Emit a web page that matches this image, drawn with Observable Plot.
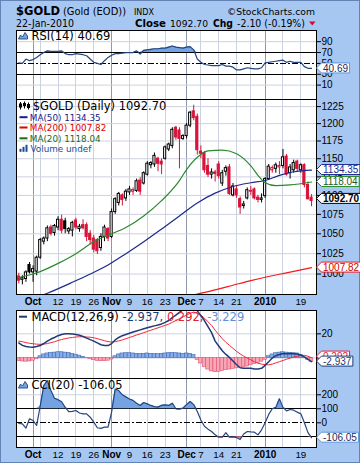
<!DOCTYPE html>
<html>
<head>
<meta charset="utf-8">
<script src="https://cdn.jsdelivr.net/npm/d3@7"></script>
<script src="https://cdn.jsdelivr.net/npm/@observablehq/plot@0.6"></script>
<style>
  html, body { margin: 0; padding: 0; background: #ffffff; }
  #chart { position: relative; width: 360px; height: 463px; background: #a7c7f3; overflow: hidden; box-shadow: inset 0 0 0 1px #6482b4; }
  #chart > svg { position: absolute; left: 0; }
</style>
</head>
<body>
<div id="chart"></div>
<script>
// ---------------- DATA ----------------
const symbol = "$GOLD";
const days = [
  "2009-09-25","2009-09-28","2009-09-29","2009-09-30",
  "2009-10-01","2009-10-02","2009-10-05","2009-10-06","2009-10-07","2009-10-08","2009-10-09",
  "2009-10-12","2009-10-13","2009-10-14","2009-10-15","2009-10-16","2009-10-19","2009-10-20",
  "2009-10-21","2009-10-22","2009-10-23","2009-10-26","2009-10-27","2009-10-28","2009-10-29","2009-10-30",
  "2009-11-02","2009-11-03","2009-11-04","2009-11-05","2009-11-06","2009-11-09","2009-11-10",
  "2009-11-11","2009-11-12","2009-11-13","2009-11-16","2009-11-17","2009-11-18","2009-11-19",
  "2009-11-20","2009-11-23","2009-11-24","2009-11-25","2009-11-26","2009-11-27","2009-11-30",
  "2009-12-01","2009-12-02","2009-12-03","2009-12-04","2009-12-07","2009-12-08","2009-12-09",
  "2009-12-10","2009-12-11","2009-12-14","2009-12-15","2009-12-16","2009-12-17","2009-12-18",
  "2009-12-21","2009-12-22","2009-12-23","2009-12-24","2009-12-28","2009-12-29","2009-12-30","2009-12-31",
  "2010-01-04","2010-01-05","2010-01-06","2010-01-07","2010-01-08","2010-01-11","2010-01-12",
  "2010-01-13","2010-01-14","2010-01-15","2010-01-19","2010-01-20","2010-01-21","2010-01-22"
];
const prevClose = 996;
const open = [997,993,994,1011,1002,1003,1020,1040,1044,1058, 1051,1058,1068,1066,1053,1054,1067,1056,1061,1061,
  1050,1044,1042,1032,1046,1056,1046,1078,1090,1100, 1096,1104,1105,1106,1120,1116,1128,1141,1142,1150,
  1146,1150,1163,1168,1194,1190,1178,1182,1197,1218, 1210,1160,1158,1140,1128,1131,1142,1116,1132,1138,
  1100,1108,1095,1086,1096,1106,1108,1097,1094,1099, 1122,1134,1136,1138,1140,1153,1130,1134,1146,1134,
  1141,1114,1097];
const high = [1001,998,1004,1014,1010,1022,1044,1046,1060,1061, 1062,1072,1074,1070,1058,1066,1070,1062,1068,1064,
  1054,1048,1044,1050,1061,1058,1082,1097,1104,1102, 1108,1112,1110,1122,1124,1132,1146,1146,1158,1152,
  1150,1168,1172,1194,1196,1194,1184,1200,1218,1227, 1214,1168,1160,1150,1136,1134,1146,1134,1140,1142,
  1116,1112,1098,1092,1110,1112,1110,1100,1102,1124, 1142,1140,1144,1146,1163,1156,1142,1148,1148,1143,
  1143,1118,1101];
const low = [988,987,990,1000,990,998,1018,1036,1040,1047, 1047,1054,1050,1050,1049,1046,1055,1052,1055,1040,
  1036,1026,1024,1028,1040,1040,1044,1075,1086,1086, 1092,1100,1100,1104,1100,1114,1126,1136,1138,1132,
  1128,1148,1160,1164,1176,1136,1176,1178,1194,1204, 1155,1150,1130,1124,1122,1118,1122,1112,1126,1100,
  1098,1096,1075,1082,1094,1100,1094,1090,1090,1096, 1120,1130,1130,1128,1136,1126,1122,1130,1132,1130,
  1110,1094,1085];
const close = [992,995,1002,1002,1006,1020,1042,1044,1057,1050, 1060,1068,1054,1056,1056,1064,1058,1059,1057,1046,
  1042,1030,1028,1046,1058,1044,1078,1095,1102,1094, 1105,1108,1107,1119,1105,1130,1143,1144,1154,1143,
  1142,1166,1170,1191,1180,1178,1182,1197,1216,1208, 1162,1157,1134,1128,1131,1129,1126,1130,1137,1102,
  1112,1100,1084,1088,1107,1105,1096,1094,1096,1122, 1139,1137,1141,1140,1152,1128,1138,1144,1136,1141,
  1114,1094.8,1092.7];

const ma50Days = ["2009-09-25","2009-10-07","2009-10-16","2009-10-23","2009-10-30","2009-11-06","2009-11-13","2009-11-20",
  "2009-11-27","2009-12-04","2009-12-11","2009-12-18","2009-12-28","2010-01-04","2010-01-08","2010-01-14","2010-01-22"];
const ma50Vals = [965,977,990,1000,1011,1025,1040,1056,1073,1090,1103,1112,1117,1120,1127,1132,1134.35];
const ma20Days = ["2009-09-25","2009-10-01","2009-10-05","2009-10-12","2009-10-19","2009-10-26","2009-11-02","2009-11-06",
  "2009-11-13","2009-11-20","2009-11-27","2009-12-01","2009-12-04","2009-12-09","2009-12-15","2009-12-21","2009-12-28",
  "2009-12-30","2010-01-04","2010-01-07","2010-01-13","2010-01-22"];
const ma20Vals = [996,1000,1003,1013,1025,1040,1050,1058,1073,1093,1120,1135,1152,1161,1162,1157,1140,1127,1117,1113,1114,1118.04];
const ma200Days = ["2009-11-30","2009-12-04","2009-12-11","2009-12-18","2009-12-28","2010-01-05","2010-01-12","2010-01-22"];
const ma200Vals = [972,976,981,986.5,992,997,1001.5,1007.82];

const rsi = [51,50,58,55,57,61,66,70,73,72, 72,72,73,68,66,66,68,67,66,64, 58,52,50,48,55,61,65,68,68,69,
  70,70,70,73,67,74,75,76,77,77, 78,78,80,82,80,79,78,80,81,75, 58,52,48,47,46,46,46,48,45,45,
  43,38,38,40,42,41,40,40,42,51, 52,53,54,55,56,52,54,52,52,52, 44,41,40.69];
const macd = [12.5,10.5,9.5,9.2,9,9.5,10.4,12,14,15.7, 17,18.5,19.5,20,20,19.8,19.5,18.8,17.8,16.5,
  15.2,14,12.5,11,10.3,10.3,12,15,17,18.5, 19.5,20.5,21.5,22.4,23.3,24.2,25,25.8,26.6,27.3,
  28.2,29.5,31,33.5,35.5,37.8,40,42,44,45, 39,35,31,26,21,14,10,6,3,0.5,
  -2.5,-5.5,-8,-8.5,-8.5,-8.5,-9,-9,-8.5,-6, -3,0,2,3,3.8,3.6,3.7,3.6,3.3,2.5, 1,-1,-2.937];
const signal = [14,13.5,12.8,12.2,11.8,11.5,11.3,11.5,12,12.7, 13.5,14.5,15.3,16,16.6,17,17.4,17.6,17.6,17.4,
  17.2,16.8,16,15.2,14.3,13.6,13.2,13.5,14.2,15, 16,17,18,19,20,21,22,23,24,25,
  26,27,28,29.5,31,32.5,34,35.5,37,38, 37,35.5,33,30,27,23,19.5,16,13,10.5,
  8,5.5,3.5,1.5,0,-1.5,-3,-4.3,-5,-5.5, -5.6,-5,-4,-3,-2,-1,0,0.8,1.5,2, 2.3,1.5,0.292];
const hist = [-2.5,-2.8,-3,-2.8,-2.2,-1,1.5,3,3.8,4.2, 4.5,4.8,4.8,4.5,4.2,3.5,2.8,2,1,0.2,
  -1,-1.8,-2.3,-2.6,-2.6,-2.2,-1.2,1.5,3,3.8, 4,4,3.8,3.5,3.3,3.5,3.8,3.5,3.3,3.2,
  3.5,3.8,4,4.2,4,3.8,3.5,3.8,3.5,2.5, -1.5,-4.5,-7.5,-9.5,-11,-11.6,-11.4,-10.8,-10,-9.5,
  -9,-8.5,-8,-7.5,-7,-6,-5,-4,-3,-1.5, 1.5,3,4,4.5,4.8,4.5,4.2,4,3.8,2.5, 0.5,-1.5,-3.229];
const cci = [-5,-7,-38,29,16,-19,120,266,300,230, 175,165,150,110,80,82,88,70,64,64,
  40,5,-35,-40,-31,-31,76,240,230,200, 185,170,160,140,124,145,135,124,115,112,
  125,128,124,140,100,98,105,130,152,130, 80,20,-25,-45,-62,-85,-103,-103,-70,-103,
  -100,-105,-119,-80,-62,-65,-67,-86,-50,0, 60,100,110,171,110,85,95,90,76,64, 0,-70,-106.05];

const rsiTicks = [10,30,50,70,90];
const priceTicks = [1000,1025,1050,1075,1100,1125,1150,1175,1200,1225];
const macdTicks = [0,20];
const cciTicks = [-100,0,100,200];
const monthLabelDays = ["2009-10-01","2009-11-02","2009-12-01","2010-01-04"];
const monthLabels = ["Oct","Nov","Dec","2010"];
const dayLabelDays = ["2009-10-12","2009-10-19","2009-10-26","2009-11-09","2009-11-16","2009-11-23","2009-12-07","2009-12-14","2009-12-21","2010-01-19"];
const dayLabels = ["12","19","26","9","16","23","7","14","21","19"];
const gridDays = ["2009-10-05","2009-10-12","2009-10-19","2009-10-26","2009-11-09","2009-11-16","2009-11-23","2009-12-07","2009-12-14","2009-12-21","2009-12-28","2010-01-11","2010-01-19"];

// ---------------- LAYOUT / STYLE ----------------
const RED = "#d8133a", NAVY = "#1b2a8f", GREEN = "#2a8a2a", MA200C = "#f21a1a";
const LINE = "#24457e", FILLB = "#74a2e2", FILLR = "#f27a8e";
const GRID = "#cdd2e0", GRIDM = "#8f98ab";
const W = 360, ML = 16, MR = 44;
const X0 = 18.3, DX = 3.57;
const xDomain = [(ML - X0) / DX, (W - MR - X0) / DX];
const DJ = "'DejaVu Sans', Verdana, sans-serif";
const LS = "'Liberation Sans', Arial, sans-serif";
const chart = document.getElementById("chart");
const di = d => days.indexOf(d);
const last = a => a[a.length - 1];
const baseStyle = {fontFamily: LS, fontSize: "10px", color: "#000", background: "none", overflow: "visible"};

function place(svg, top) {
  svg.style.position = "absolute"; svg.style.left = "0px"; svg.style.top = top + "px";
  svg.style.background = "none"; svg.style.maxWidth = "none";
  chart.appendChild(svg); return svg;
}
function vGrid() {
  return [
    Plot.ruleX(gridDays.map(di), {stroke: GRID, shapeRendering: "crispEdges"}),
    Plot.ruleX(monthLabelDays.map(di), {stroke: GRIDM, shapeRendering: "crispEdges"})
  ];
}
function legend(str, dx, dy, fill, size) {
  return Plot.text([str], {text: d => d, frameAnchor: "top-left", dx, dy, textAnchor: "start", lineAnchor: "middle",
    fill, fontSize: size, fontFamily: DJ});
}
function dateLabels(dy) {
  return [
    Plot.text(monthLabelDays.map((d, k) => ({i: di(d), t: monthLabels[k]})), {x: "i", text: "t", frameAnchor: "bottom", dy, lineAnchor: "middle", fontWeight: "bold", fontSize: 10, fill: "#000", fontFamily: LS}),
    Plot.text(dayLabelDays.map((d, k) => ({i: di(d), t: dayLabels[k]})), {x: "i", text: "t", frameAnchor: "bottom", dy, lineAnchor: "middle", fontSize: 9.8, fill: "#000", fontFamily: LS})
  ];
}
function yAxis(extra) {
  return Object.assign({axis: "right", tickSize: 4, tickPadding: 1, tickFormat: d => String(d), label: null}, extra);
}
function scaleFn(plot, name) {
  const s = plot.scale(name);
  if (s && typeof s.apply === "function") return v => s.apply(v);
  const f = (s.type === "log" ? d3.scaleLog() : d3.scaleLinear()).domain(s.domain).range(s.range);
  return f;
}
function tag(svg, y, label, border, color, bold) {
  const g = d3.select(svg).append("g").attr("text-anchor", "start");
  const x0 = W - MR + 0.5;
  const t = g.append("text").attr("x", x0 + 6.5).attr("y", y).attr("dy", "0.36em").attr("text-anchor", "start")
    .attr("font-family", LS).attr("font-size", 10).attr("font-weight", bold ? "bold" : "normal")
    .attr("fill", color).text(label);
  const w = t.node().getComputedTextLength() + 3;
  g.insert("path", "text")
    .attr("d", `M${x0},${y} L${x0 + 5},${y - 5} L${x0 + 5 + w},${y - 5} L${x0 + 5 + w},${y + 5} L${x0 + 5},${y + 5} Z`)
    .attr("fill", "white").attr("stroke", border).attr("stroke-width", 1);
}
function mountainIcon(svg, cy) {
  d3.select(svg).append("path")
    .attr("d", `M18.5,${cy + 3.5} L20.5,${cy - 0.5} L22.5,${cy + 1.5} L25,${cy - 3} L27.5,${cy + 0.5} L27.5,${cy + 3.5} Z`)
    .attr("fill", FILLB).attr("stroke", LINE).attr("stroke-width", 0.9);
}

// ---------------- HEADER ----------------
const chg = close[close.length - 1] - close[close.length - 2];
const pct = chg / close[close.length - 2] * 100;
const hdr = d3.create("svg").attr("width", W).attr("height", 30).attr("text-anchor", "start");
function htext(x, y, s, size, weight, len, fill) {
  hdr.append("text").attr("x", x).attr("y", y).attr("font-family", DJ).attr("font-size", size)
    .attr("font-weight", weight).attr("fill", fill || "#000").attr("textLength", len)
    .attr("lengthAdjust", "spacingAndGlyphs").text(s);
}
htext(16, 15, symbol, 12.5, "bold", 44);
htext(63, 14.5, "(Gold (EOD))", 9.6, "normal", 63);
htext(134, 14.5, "INDX", 8.8, "normal", 20);
htext(227, 14.5, "©StockCharts.com", 9.3, "normal", 88);
htext(16, 27, "22-Jan-2010", 9.6, "normal", 58);
htext(135, 27, "Close", 10.2, "bold", 31);
htext(170, 27, last(close).toFixed(2), 9.4, "normal", 38);
htext(213, 27, "Chg", 9.6, "bold", 20);
htext(237, 27, `${chg.toFixed(2)} (${pct.toFixed(2)}%)`, 9.6, "normal", 68);
hdr.append("path").attr("d", "M309,21.5 L315.5,21.5 L312.25,25.5 Z").attr("fill", "#c8102e");
place(hdr.node(), 0);

// ---------------- RSI PANEL ----------------
const rsiRows = days.map((d, i) => ({i, v: rsi[i]}));
const rsiPlot = Plot.plot({
  width: W, height: 69, marginLeft: ML, marginRight: MR, marginTop: 0, marginBottom: 0,
  style: baseStyle,
  x: {domain: xDomain, axis: null},
  y: yAxis({domain: [-16.5, 110.6], ticks: rsiTicks}),
  marks: [
    Plot.frame({fill: "white", stroke: "none"}),
    ...vGrid(),
    Plot.ruleY([10, 90], {stroke: GRID}),
    Plot.ruleY([30, 70], {stroke: "#000", shapeRendering: "crispEdges"}),
    Plot.ruleY([50], {stroke: "#000", strokeDasharray: "6,2,2,2", shapeRendering: "crispEdges"}),
    Plot.areaY(rsiRows, {x: "i", y1: 70, y2: d => Math.max(70, d.v), fill: FILLB}),
    Plot.lineY(rsiRows, {x: "i", y: "v", stroke: LINE, strokeWidth: 1.2}),
    legend(`RSI(14) ${last(rsi)}`, 15, 5.5, "#000", 11.5),
    Plot.frame({stroke: "#000", shapeRendering: "crispEdges"})
  ]
});
place(rsiPlot, 30);
mountainIcon(rsiPlot, 5.5);
tag(rsiPlot, scaleFn(rsiPlot, "y")(last(rsi)), last(rsi).toFixed(2), "#5f97df", "#1a2a5a");

// ---------------- PRICE PANEL ----------------
const bars = days.map((d, i) => ({i, o: open[i], h: high[i], l: low[i], c: close[i], pc: i ? close[i - 1] : prevClose}));
const cColor = d => d.c < d.pc ? RED : "#000";
const cFill = d => d.c > d.o ? "#fff" : cColor(d);
const maRows = (ds, vs) => ds.map((d, k) => ({i: di(d), v: vs[k]}));
const pricePlot = Plot.plot({
  width: W, height: 211, marginLeft: ML, marginRight: MR, marginTop: 0, marginBottom: 16,
  style: baseStyle,
  x: {domain: xDomain, axis: null},
  y: yAxis({type: "log", domain: [975.5, 1235.6], ticks: priceTicks}),
  marks: [
    Plot.frame({fill: "white", stroke: "none"}),
    ...vGrid(),
    Plot.ruleY(priceTicks, {stroke: GRID}),
    Plot.ruleX(bars, {x: "i", y1: "l", y2: "h", stroke: cColor, strokeWidth: 1, clip: true}),
    Plot.rect(bars, {x1: d => d.i - 0.3, x2: d => d.i + 0.3, y1: "o", y2: "c", fill: cFill, stroke: cColor, strokeWidth: 1, clip: true}),
    Plot.line(maRows(ma200Days, ma200Vals), {x: "i", y: "v", stroke: MA200C, strokeWidth: 1.2, curve: "monotone-x", clip: true}),
    Plot.line(maRows(ma50Days, ma50Vals), {x: "i", y: "v", stroke: NAVY, strokeWidth: 1.2, curve: "monotone-x", clip: true}),
    Plot.line(maRows(ma20Days, ma20Vals), {x: "i", y: "v", stroke: GREEN, strokeWidth: 1.2, curve: "monotone-x", clip: true}),
    legend(`${symbol} (Daily) ${last(close).toFixed(2)}`, 16.3, 6.8, "#000", 11.5),
    legend(`MA(50) ${last(ma50Vals).toFixed(2)}`, 13.3, 18.2, "#1b1b8a", 8.8),
    legend(`MA(200) ${last(ma200Vals).toFixed(2)}`, 13.3, 28.5, "#e00000", 8.8),
    legend(`MA(20) ${last(ma20Vals).toFixed(2)}`, 13.3, 39.3, "#1d6b1d", 8.8),
    legend("Volume undef", 14, 49.3, "#1a4a9a", 8.8),
    ...dateLabels(7.5),
    Plot.frame({stroke: "#000", shapeRendering: "crispEdges"})
  ]
});
place(pricePlot, 99);
{
  const g = d3.select(pricePlot).append("g");
  [[20.5, 3, 10.5, 4.5, 8.5], [24.5, 2.5, 9.5, 4, 7], [28.5, 3.5, 10.5, 5, 9]].forEach(([x, a, b, c, e]) => {
    g.append("line").attr("x1", x).attr("x2", x).attr("y1", a).attr("y2", b).attr("stroke", "#000");
    g.append("rect").attr("x", x - 1.5).attr("y", c).attr("width", 3).attr("height", e - c).attr("fill", "#000");
  });
  [[18.2, "#1b1b8a"], [28.5, "#e00000"], [39.3, "#1d6b1d"]].forEach(([y, c]) =>
    g.append("rect").attr("x", 19.5).attr("y", y - 1).attr("width", 8).attr("height", 2).attr("fill", c));
  [[19.5, 3], [22.5, 5], [25.5, 7]].forEach(([x, h]) =>
    g.append("rect").attr("x", x).attr("y", 52.8 - h).attr("width", 2).attr("height", h).attr("fill", "#1a4a9a"));
  const sy = scaleFn(pricePlot, "y");
  tag(pricePlot, sy(last(ma50Vals)), last(ma50Vals).toFixed(2), "#1b2a8f", "#1b2a8f");
  tag(pricePlot, sy(last(ma20Vals)), last(ma20Vals).toFixed(2), "#2a8a2a", "#1d5b1d");
  tag(pricePlot, sy(last(close)) - 2, last(close).toFixed(2), "#000", "#000", true);
  tag(pricePlot, sy(last(ma200Vals)), last(ma200Vals).toFixed(2), "#f21a1a", "#d00000");
}

// ---------------- MACD PANEL ----------------
const macdRows = days.map((d, i) => ({i, m: macd[i], s: signal[i], h: hist[i]}));
const macdPlot = Plot.plot({
  width: W, height: 68, marginLeft: ML, marginRight: MR, marginTop: 0, marginBottom: 0,
  style: baseStyle,
  x: {domain: xDomain, axis: null},
  y: yAxis({domain: [-16.9, 39.3], ticks: macdTicks}),
  marks: [
    Plot.frame({fill: "white", stroke: "none"}),
    ...vGrid(),
    Plot.ruleY(macdTicks, {stroke: GRID}),
    Plot.rect(macdRows, {x1: d => d.i - 0.5, x2: d => d.i + 0.5, y1: 0, y2: "h",
      fill: d => d.h >= 0 ? "#86ade8" : "#f6a6b6", stroke: d => d.h >= 0 ? "#3e68b4" : "#e2506e", strokeWidth: 0.6}),
    Plot.lineY(macdRows, {x: "i", y: "s", stroke: "#ee2a3a", strokeWidth: 1, clip: true}),
    Plot.lineY(macdRows, {x: "i", y: "m", stroke: "#1f3b75", strokeWidth: 1.5, clip: true}),
    Plot.frame({stroke: "#000", shapeRendering: "crispEdges"})
  ]
});
place(macdPlot, 310);
{
  const g = d3.select(macdPlot);
  g.append("rect").attr("x", 19).attr("y", 5.7).attr("width", 8).attr("height", 2).attr("fill", "#1f3b75");
  const t = g.append("text").attr("x", 31.5).attr("y", 6.7).attr("dy", "0.36em").attr("text-anchor", "start")
    .attr("font-family", DJ).attr("font-size", 11.5);
  t.append("tspan").attr("fill", "#000").text("MACD(12,26,9) ");
  t.append("tspan").attr("fill", "#1f3b75").text(`${last(macd)}, `);
  t.append("tspan").attr("fill", "#e8203a").text(`${last(signal)}, `);
  t.append("tspan").attr("fill", "#5f8fd8").text(`${last(hist)}`);
  const sy = scaleFn(macdPlot, "y");
  const yM = sy(last(macd));
  tag(macdPlot, Math.min(sy(last(signal)), yM - 5), String(last(signal)), "#e8203a", "#e8203a");
  tag(macdPlot, yM, String(last(macd)), "#1f3b75", "#1f3b75");
}

// ---------------- CCI PANEL ----------------
const cciRows = days.map((d, i) => ({i, v: cci[i]}));
const cciPlot = Plot.plot({
  width: W, height: 84, marginLeft: ML, marginRight: MR, marginTop: 0, marginBottom: 15,
  style: baseStyle,
  x: {domain: xDomain, axis: null},
  y: yAxis({domain: [-176, 316], ticks: cciTicks}),
  marks: [
    Plot.frame({fill: "white", stroke: "none"}),
    ...vGrid(),
    Plot.ruleY([200], {stroke: GRID}),
    Plot.ruleY([-100, 100], {stroke: "#000", shapeRendering: "crispEdges"}),
    Plot.ruleY([0], {stroke: "#000", strokeDasharray: "6,2,2,2", shapeRendering: "crispEdges"}),
    Plot.areaY(cciRows, {x: "i", y1: 100, y2: d => Math.max(100, d.v), fill: FILLB, clip: true}),
    Plot.areaY(cciRows, {x: "i", y1: -100, y2: d => Math.min(-100, d.v), fill: FILLR, clip: true}),
    Plot.lineY(cciRows, {x: "i", y: "v", stroke: LINE, strokeWidth: 1.2, clip: true}),
    legend(`CCI(20) ${last(cci)}`, 15, 6.5, "#000", 11.5),
    ...dateLabels(7),
    Plot.frame({stroke: "#000", shapeRendering: "crispEdges"})
  ]
});
place(cciPlot, 378);
mountainIcon(cciPlot, 6.5);
tag(cciPlot, scaleFn(cciPlot, "y")(last(cci)), last(cci).toFixed(2), "#5f97df", "#1a2a5a");
</script>
</body>
</html>
